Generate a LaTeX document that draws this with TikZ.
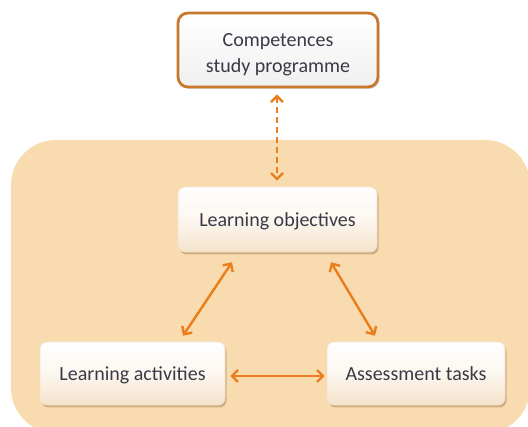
\documentclass[tikz,border=0pt]{standalone}
\usepackage{fontspec}
\setmainfont{Carlito}
\usetikzlibrary{arrows.meta,shadows}
\definecolor{panel}{HTML}{F9DBB0}
\definecolor{arrorange}{HTML}{EA7E1C}
\definecolor{topborder}{HTML}{C8782C}
\definecolor{txt}{HTML}{383A46}
\definecolor{cream}{HTML}{F5E3CB}
\tikzset{
  innerbox/.style={rounded corners=7pt, draw=cream!80!brown!60, line width=0.6pt,
    top color=white, bottom color=cream, middle color=white!70!cream,
    drop shadow={shadow xshift=1.5pt, shadow yshift=-2.5pt, opacity=0.35, fill=brown!70!black},
    font=\fontsize{20}{26}\selectfont, text=txt, align=center, inner sep=0pt,
    text height=15pt, text depth=0pt},
  topbox/.style={rounded corners=10pt, draw=topborder, line width=2.8pt,
    top color=white, bottom color=gray!12,
    drop shadow={shadow xshift=1.5pt, shadow yshift=-2pt, opacity=0.3},
    font=\fontsize{20}{26}\selectfont, text=txt, align=center, inner sep=0pt},
  arr/.style={draw=arrorange, line width=2.4pt, {Straight Barb[length=6pt,width=12pt]}-{Straight Barb[length=6pt,width=12pt]}},
  dasharr/.style={arr, dash pattern=on 6pt off 4pt}
}
\begin{document}
\begin{tikzpicture}[x=1pt,y=-1pt]
\useasboundingbox (0,0) rectangle (528,427);
\clip (0,0) rectangle (528,427);
\fill[panel, rounded corners=45pt] (11,140) rectangle (530,433);
\node[topbox, minimum width=200pt, minimum height=74pt] (comp) at (278,50) {\rule{0pt}{22pt}Competences\\study programme};
\node[innerbox, minimum width=199pt, minimum height=65pt] (obj) at (277.5,219.5) {Learning objectives};
\node[innerbox, minimum width=185pt, minimum height=63pt] (act) at (132.5,373.5) {Learning activities};
\node[innerbox, minimum width=178pt, minimum height=63pt] (ass) at (416,373.5) {Assessment tasks};
\draw[dasharr] ([xshift=-1pt,yshift=-6pt]comp.south) -- ([xshift=-0.5pt,yshift=6pt]obj.north);
\draw[arr] ([xshift=-45.5pt,yshift=-10pt]obj.south) -- ([xshift=50.5pt,yshift=6pt]act.north);
\draw[arr] ([xshift=53.5pt,yshift=-10pt]obj.south) -- ([xshift=-41pt,yshift=6pt]ass.north);
\draw[arr] ([xshift=5pt,yshift=-2.5pt]act.east) -- ([xshift=-2pt,yshift=-2.5pt]ass.west);
\end{tikzpicture}
\end{document}
